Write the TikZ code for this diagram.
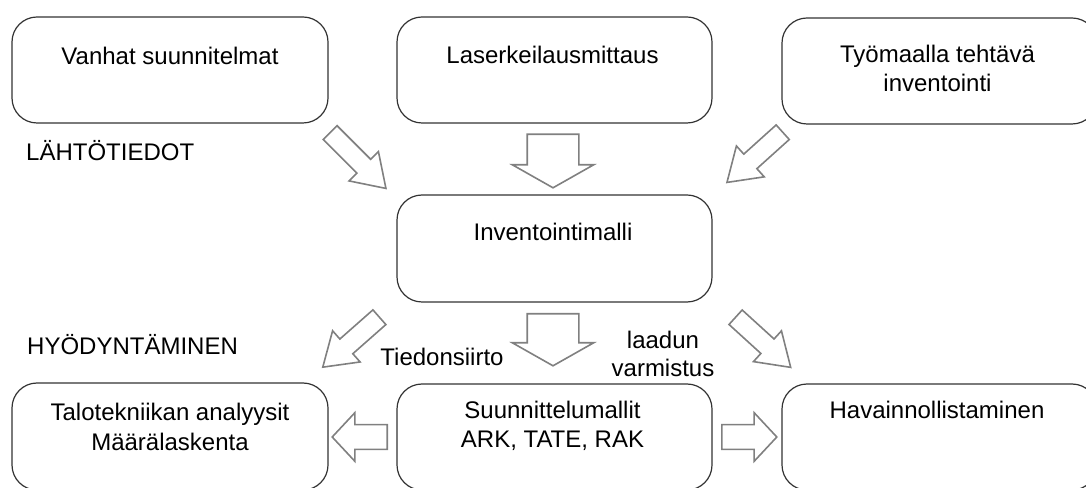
\documentclass[tikz,border=0pt]{standalone}
\usepackage{fontspec}
\setmainfont{Liberation Sans}
\usetikzlibrary{shapes.arrows}

\tikzset{
  box/.style={draw=black!80,line width=1.2pt,rounded corners=25pt,inner sep=0pt,
              minimum width=315pt,minimum height=106pt},
  txt/.style={font=\fontsize{24}{29.5}\selectfont,inner sep=0pt,anchor=base,align=center},
  blockarrow/.style={single arrow,draw=black!50,fill=white,line width=1.6pt,
                     inner xsep=0pt,minimum width=0pt,single arrow head indent=0pt},
  bigarrow/.style={blockarrow,inner ysep=25pt,single arrow head extend=15pt,
                   single arrow tip angle=121},
  sidearrow/.style={blockarrow,inner ysep=11.5pt,single arrow head extend=12pt,
                    single arrow tip angle=94,minimum height=55pt},
  diagarrow/.style={blockarrow,inner ysep=9pt,single arrow head extend=11pt,
                    single arrow tip angle=67}
}

\begin{document}
\begin{tikzpicture}[x=1pt,y=1pt]
\useasboundingbox (0,0) rectangle (1086,487);
\clip (0,0) rectangle (1086,487);

%% boxes
\node[box,minimum width=316pt] (vanhat) at (170,417) {};
\node[box] (laser) at (554.5,417) {};
\node[box] (tyomaa) at (939.5,416) {};
\node[box,minimum height=107pt] (inv) at (554.5,238.5) {};
\node[box,minimum width=316pt,minimum height=107pt] (talo) at (170,50.5) {};
\node[box] (suun) at (554.5,50) {};
\node[box] (hav) at (939.5,50) {};

%% texts (two-line ones sit on their last line)
\node[txt] (vanhat-t) at (170,422.5) {Vanhat suunnitelmat};
\node[txt] (laser-t) at (552.5,423.5) {Laserkeilausmittaus};
\node[txt] (tyomaa-t) at (937.5,395) {Työmaalla tehtävä\\inventointi};
\node[txt] (inv-t) at (553,246.5) {Inventointimalli};
\node[txt] (talo-t) at (170,37) {Talotekniikan analyysit\\Määrälaskenta};
\node[txt] (suun-t) at (552.5,39) {Suunnittelumallit\\ARK, TATE, RAK};
\node[txt] (hav-t) at (937,68.5) {Havainnollistaminen};
\node[txt,anchor=base west] (lahto) at (26,326.5) {LÄHTÖTIEDOT};
\node[txt,anchor=base west] (hyod) at (27,132) {HYÖDYNTÄMINEN};
\node[txt] (siirto) at (442,121.5) {Tiedonsiirto};
\node[txt,font=\fontsize{24}{28}\selectfont] (laatu) at (663,110.5) {laadun\\varmistus};

%% block arrows
\node[bigarrow,anchor=tail,rotate=-90,minimum height=53.5pt] (a-laser) at (553,353.5) {};
\node[bigarrow,anchor=tail,rotate=-90,minimum height=52pt] (a-suun) at (553,174) {};
\foreach \nm/\pos/\ang/\len in {a-vanhat/{329.5,355}/-45/79,a-tyomaa/{783.3,355.3}/-138/75,
                                a-talo/{380,170.3}/-138.6/75.5,a-hav/{735,170.3}/-42.3/74.5}
  \node[diagarrow,anchor=tail,rotate=\ang,minimum height=\len pt] (\nm) at (\pos) {};
\node[sidearrow,anchor=tail,rotate=180] (a-left) at (388,50) {};
\node[sidearrow,anchor=tail] (a-right) at (721,50) {};
\end{tikzpicture}
\end{document}
